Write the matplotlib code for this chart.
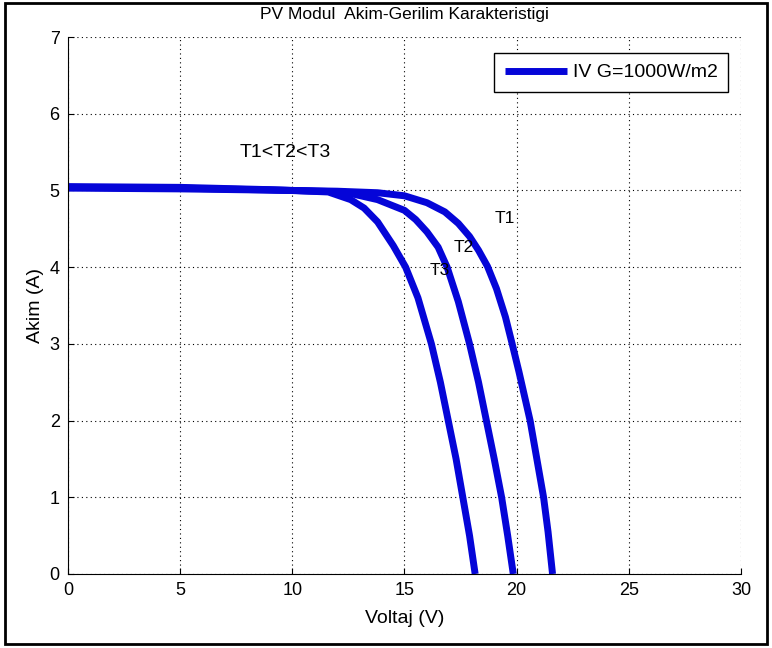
import matplotlib.pyplot as plt
from matplotlib.patches import Rectangle

plt.rcParams['font.family'] = ['Liberation Sans', 'DejaVu Sans']

# I-V curves (V in volts, I in amps)
v_t1 = [0, 5, 10, 12, 13.8, 15.0, 16.0, 16.8, 17.4, 17.9, 18.3, 18.7, 19.1, 19.5, 19.8, 20.1, 20.35, 20.6, 20.9, 21.2, 21.4, 21.6]
i_t1 = [5.03, 5.02, 5.00, 4.99, 4.97, 4.93, 4.84, 4.72, 4.57, 4.40, 4.22, 4.01, 3.72, 3.35, 3.0, 2.64, 2.32, 2.0, 1.5, 1.0, 0.55, 0]

v_t2 = [0, 5, 10, 12.3, 13.8, 15.0, 15.5, 16.0, 16.5, 16.9, 17.4, 17.9, 18.3, 18.65, 19.0, 19.33, 19.6, 19.85]
i_t2 = [5.04, 5.03, 5.0, 4.98, 4.88, 4.74, 4.62, 4.46, 4.26, 4.0, 3.55, 3.0, 2.5, 2.0, 1.5, 1.0, 0.5, 0]

v_t3 = [0, 5, 9, 11.6, 12.6, 13.2, 13.8, 14.5, 15.05, 15.6, 16.2, 16.6, 16.95, 17.3, 17.6, 17.9, 18.15]
i_t3 = [5.05, 5.04, 5.01, 4.98, 4.88, 4.77, 4.59, 4.28, 4.0, 3.6, 3.0, 2.5, 2.0, 1.5, 1.0, 0.5, 0]

x_ticks = [0, 5, 10, 15, 20, 25, 30]
y_ticks = [0, 1, 2, 3, 4, 5, 6, 7]

blue = '#0505d8'
fs = 12.5

fig = plt.figure(figsize=(7.72, 6.48), dpi=100)
ax = fig.add_axes([0.0881, 0.1142, 0.8717, 0.8287])

for v, i, lab in [(v_t1, i_t1, 'IV G=1000W/m2'), (v_t2, i_t2, None), (v_t3, i_t3, None)]:
    ax.plot(v, i, color=blue, lw=5, solid_capstyle='butt', solid_joinstyle='round', label=lab)

ax.set_xlim(0, 30)
ax.set_ylim(0, 7)
ax.set_xticks(x_ticks)
ax.set_yticks(y_ticks)
ax.tick_params(direction='in', length=4, labelsize=13, pad=6)
ax.grid(True, color='black', linestyle=(0, (1, 3)), linewidth=0.8)
ax.spines['top'].set_visible(False)
ax.spines['right'].set_visible(False)

ax.set_title('PV Modul  Akim-Gerilim Karakteristigi', fontsize=fs, pad=13)
ax.set_xlabel('Voltaj (V)', fontsize=14, labelpad=8)
ax.set_ylabel('Akim (A)', fontsize=14, labelpad=4)

ax.text(7.66, 5.50, 'T1<T2<T3', fontsize=14, va='center')
ax.text(19.0, 4.64, 'T1', fontsize=fs, va='center')
ax.text(17.2, 4.25, 'T2', fontsize=fs, va='center')
ax.text(16.1, 3.96, 'T3', fontsize=fs, va='center')

leg = ax.legend(loc='upper right', fontsize=14, handlelength=3.2, handletextpad=0.3,
                fancybox=False, framealpha=1, borderpad=0.55, borderaxespad=0,
                bbox_to_anchor=(0.981, 0.970))
leg.get_frame().set_edgecolor('black')
leg.get_frame().set_linewidth(1)

fig.patches.append(Rectangle((0.006, 0.006), 0.988, 0.99, transform=fig.transFigure,
                             fill=False, edgecolor='black', linewidth=2))

fig.savefig('out.png', dpi=100)
